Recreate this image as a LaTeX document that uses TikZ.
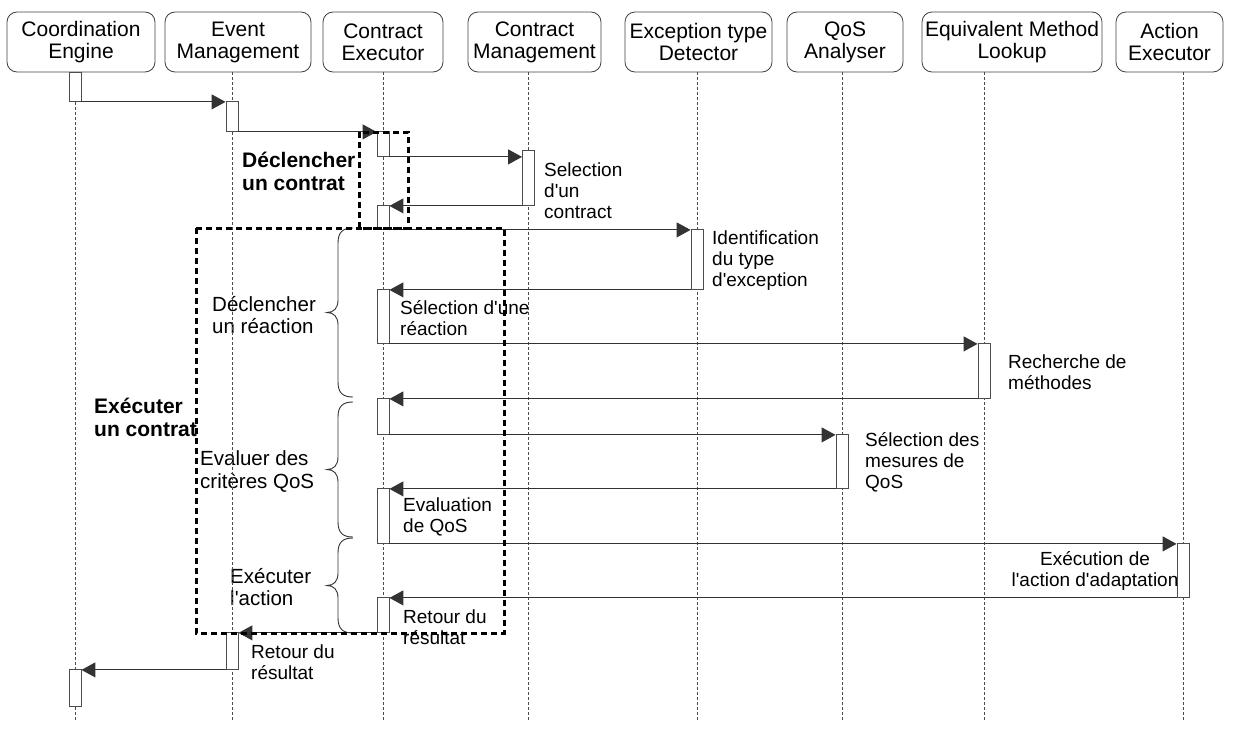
\documentclass[tikz,border=0pt]{standalone}
\usepackage{fontspec}
\setmainfont{Liberation Sans}
\usetikzlibrary{arrows.meta}
\newcommand\aq{\textquotesingle}
\begin{document}
\begin{tikzpicture}[x=1pt,y=-1pt,
  hdr/.style={draw=black!75, line width=0.8pt, rounded corners=10pt, align=center, inner sep=0pt, font=\fontsize{21}{22}\selectfont},
  life/.style={draw=black!70, line width=0.7pt, dash pattern=on 3pt off 2pt},
  act/.style={draw=black!70, fill=white, line width=0.9pt, minimum width=12pt, inner sep=0pt, anchor=north},
  msg/.style={draw=black!80, line width=1.1pt, -{Triangle[length=14pt,width=15pt]}},
  lab/.style={align=left, inner sep=0pt, anchor=west, font=\fontsize{19}{21}\selectfont},
  clab/.style={align=center, inner sep=0pt, font=\fontsize{19}{21}\selectfont},
  blab/.style={align=left, inner sep=0pt, anchor=west, font=\fontsize{21}{23}\selectfont\bfseries},
  brlab/.style={align=left, inner sep=0pt, anchor=west, font=\fontsize{20.5}{22.5}\selectfont},
  brc/.style={draw=black!80, line width=0.9pt},
  grp/.style={draw=black, line width=3pt, dash pattern=on 6pt off 4pt}
]
\useasboundingbox (0,0) rectangle (1239,731);

% headers
\node[hdr, minimum width=148pt, minimum height=60pt] (h1) at (81,42) {Coordination\\Engine};
\node[hdr, minimum width=146pt, minimum height=60pt] (h2) at (238,42) {Event\\Management};
\node[hdr, minimum width=120pt, minimum height=60pt] (h3) at (383,42) {Contract\\Executor};
\node[hdr, minimum width=133pt, minimum height=60pt] (h4) at (534.5,42) {Contract\\Management};
\node[hdr, minimum width=147pt, minimum height=60pt] (h5) at (698.5,42) {Exception type\\Detector};
\node[hdr, minimum width=116pt, minimum height=60pt] (h6) at (845,42) {QoS\\Analyser};
\node[hdr, minimum width=180pt, minimum height=60pt] (h7) at (1012,42) {Equivalent Method\\Lookup};
\node[hdr, minimum width=107pt, minimum height=60pt] (h8) at (1169.5,42) {Action\\Executor};

% text labels
\node[lab] (t1) at (544,190.5) {Selection\\d\aq un\\contract};
\node[lab] (t2) at (712,261) {Identification\\du type\\d\aq exception};
\node[lab] (t3) at (400,318.5) {Sélection d\aq une\\réaction};
\node[lab] (t4) at (1008,372) {Recherche de\\méthodes};
\node[lab] (t5) at (865,462) {Sélection des\\mesures de\\QoS};
\node[lab] (t6) at (403,517) {Evaluation\\de QoS};
\node[clab] (t7) at (1095,571) {Exécution de\\l\aq action d\aq adaptation};
\node[lab] (t8) at (403,627) {Retour du\\résultat};
\node[lab] (t9) at (251,662.5) {Retour du\\résultat};
\node[blab] (k1) at (242,171.5) {Déclencher\\un contrat};
\node[blab] (k2) at (94,417) {Exécuter\\un contrat};
\node[brlab] (r1) at (212,315) {Déclencher\\un réaction};
\node[brlab] (r2) at (200,471.5) {Evaluer des\\critères QoS};
\node[brlab] (r3) at (230,587) {Exécuter\\l\aq action};

% lifelines
\coordinate (e1) at (75,721);
\coordinate (e2) at (232,721);
\coordinate (e3) at (383,721);
\coordinate (e4) at (528.5,721);
\coordinate (e5) at (697,721);
\coordinate (e6) at (842,721);
\coordinate (e7) at (984,721);
\coordinate (e8) at (1183,721);
\draw[life] (h1.south -| e1) -- (e1);
\draw[life] (h2.south -| e2) -- (e2);
\draw[life] (h3.south -| e3) -- (e3);
\draw[life] (h4.south -| e4) -- (e4);
\draw[life] (h5.south -| e5) -- (e5);
\draw[life] (h6.south -| e6) -- (e6);
\draw[life] (h7.south -| e7) -- (e7);
\draw[life] (h8.south -| e8) -- (e8);

% activations
\node[act, minimum height=29pt] (a1) at (75,72) {};
\node[act, minimum height=30pt] (a2) at (232,101) {};
\node[act, minimum height=25pt] (a3) at (383,131) {};
\node[act, minimum height=55pt] (a4) at (528.5,150) {};
\node[act, minimum height=24pt] (a3b) at (383,205) {};
\node[act, minimum height=60pt] (a5) at (697,229) {};
\node[act, minimum height=54pt] (a3c) at (383,289) {};
\node[act, minimum height=55pt] (a7) at (984,343) {};
\node[act, minimum height=36pt] (a3d) at (383,398) {};
\node[act, minimum height=54pt] (a6) at (842,434) {};
\node[act, minimum height=55pt] (a3e) at (383,488) {};
\node[act, minimum height=54pt] (a8) at (1183,543) {};
\node[act, minimum height=35pt] (a3f) at (383,597) {};
\node[act, minimum height=37pt] (a2b) at (232,632) {};
\node[act, minimum height=37pt] (a1b) at (75,669) {};

% messages
\draw[msg] (a1.south east) -- (a1.south east -| a2.west);
\draw[msg] (a2.south east) -- (a2.south east -| a3.west);
\draw[msg] (a3.south east) -- (a3.south east -| a4.west);
\draw[msg] (a4.south west) -- (a4.south west -| a3b.east);
\draw[msg] (a3b.south east) -- (a3b.south east -| a5.west);
\draw[msg] (a5.south west) -- (a5.south west -| a3c.east);
\draw[msg] (a3c.south east) -- (a3c.south east -| a7.west);
\draw[msg] (a7.south west) -- (a7.south west -| a3d.east);
\draw[msg] (a3d.south east) -- (a3d.south east -| a6.west);
\draw[msg] (a6.south west) -- (a6.south west -| a3e.east);
\draw[msg] (a3e.south east) -- (a3e.south east -| a8.west);
\draw[msg] (a8.south west) -- (a8.south west -| a3f.east);
\draw[msg] (a3f.south west) -- (a3f.south west -| a2b.east);
\draw[msg] (a2b.south west) -- (a2b.south west -| a1b.east);

% braces
\draw[brc] (353,228) .. controls (343,228) and (338,232) .. (338,243) -- (338,300)
  .. controls (338,308) and (334,312.5) .. (327,312.5)
  .. controls (334,312.5) and (338,317) .. (338,325) -- (338,382)
  .. controls (338,393) and (343,397) .. (353,397);
\draw[brc] (353,402) .. controls (343,402) and (338,406) .. (338,417) -- (338,457)
  .. controls (338,465) and (334,469.5) .. (327,469.5)
  .. controls (334,469.5) and (338,474) .. (338,482) -- (338,522)
  .. controls (338,533) and (343,537) .. (353,537);
\draw[brc] (353,538) .. controls (343,538) and (338,542) .. (338,553) -- (338,573)
  .. controls (338,581) and (334,585.5) .. (327,585.5)
  .. controls (334,585.5) and (338,590) .. (338,598) -- (338,618)
  .. controls (338,629) and (343,633) .. (353,633);

% groups
\draw[grp] (359,132) rectangle (408,228);
\draw[grp] (196,228) rectangle (504,633);
\end{tikzpicture}
\end{document}
